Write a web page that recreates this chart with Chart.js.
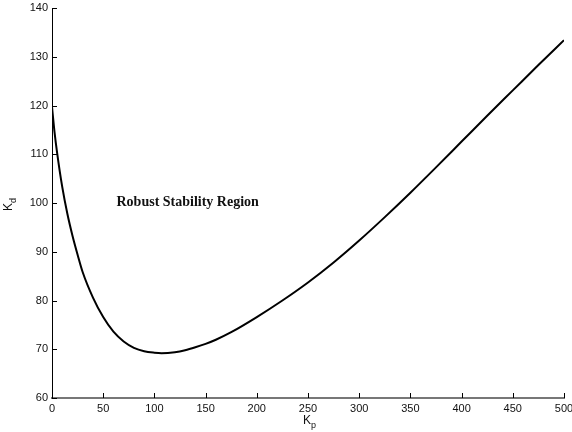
<!DOCTYPE html>
<html>
<head>
<meta charset="utf-8">
<script src="https://cdn.jsdelivr.net/npm/chart.js@4/dist/chart.umd.min.js"></script>
<style>
  html, body { margin: 0; padding: 0; background: #fff; }
  #wrap { width: 572px; height: 432px; position: relative; }
</style>
</head>
<body>
<div id="wrap"><canvas id="c"></canvas></div>
<script>
// stability boundary
const kp = [0, 2.5, 5, 10, 15, 20, 25, 30, 40, 50, 60, 70, 80, 90, 100, 107, 120, 130, 140, 150, 160,
            175, 200, 225, 250, 275, 300, 325, 350, 375, 400, 425, 450, 475, 500];
const kd = [119.7, 114.5, 110.3, 103.3, 97.8, 93.3, 89.4, 85.8, 80.6, 76.6, 73.6, 71.6, 70.3, 69.6, 69.3, 69.2, 69.4, 69.8, 70.4, 71.1, 71.95,
            73.5, 76.6, 80.0, 83.7, 87.8, 92.3, 97.1, 102.1, 107.3, 112.6, 117.9, 123.1, 128.3, 133.4];
const xTicks = [0, 50, 100, 150, 200, 250, 300, 350, 400, 450, 500];
const yTicks = [60, 70, 80, 90, 100, 110, 120, 130, 140];
const regionLabel = 'Robust Stability Region';
const regionAt = {x: 63, y: 100.2};

const tickFont = {family: '"Liberation Sans", Arial, sans-serif', size: 11};

// inward ticks, axis titles with subscripts, region label
const extras = {
  id: 'extras',
  afterDraw(chart){
    const ctx = chart.ctx, ca = chart.chartArea;
    const xs = chart.scales.x, ys = chart.scales.y;
    ctx.save();
    ctx.strokeStyle = '#000';
    ctx.lineWidth = 1;
    ctx.beginPath();
    xTicks.forEach(v=>{
      const px = Math.round(xs.getPixelForValue(v)) + 0.5;
      ctx.moveTo(px, ca.bottom); ctx.lineTo(px, ca.bottom - 5);
    });
    yTicks.forEach(v=>{
      const py = Math.round(ys.getPixelForValue(v)) + 0.5;
      ctx.moveTo(ca.left, py); ctx.lineTo(ca.left + 5, py);
    });
    ctx.stroke();

    ctx.fillStyle = '#111';
    ctx.textBaseline = 'alphabetic';
    // x title K_p
    const cx = (ca.left + ca.right) / 2;
    ctx.font = '12px "Liberation Sans", Arial, sans-serif';
    ctx.textAlign = 'left';
    ctx.fillText('K', cx - 5, 424);
    ctx.font = '9px "Liberation Sans", Arial, sans-serif';
    ctx.fillText('p', cx + 3, 428);
    // y title K_d (rotated)
    const cy = (ca.top + ca.bottom) / 2;
    ctx.save();
    ctx.translate(12, cy + 8);
    ctx.rotate(-Math.PI / 2);
    ctx.font = '12px "Liberation Sans", Arial, sans-serif';
    ctx.fillText('K', 0, 0);
    ctx.font = '9px "Liberation Sans", Arial, sans-serif';
    ctx.fillText('d', 8, 4);
    ctx.restore();

    // region label
    ctx.font = 'bold 14px "Liberation Serif", "Times New Roman", serif';
    ctx.fillStyle = '#111';
    ctx.textAlign = 'left';
    ctx.textBaseline = 'middle';
    ctx.fillText(regionLabel, xs.getPixelForValue(regionAt.x), ys.getPixelForValue(regionAt.y));
    ctx.restore();
  }
};

new Chart(document.getElementById('c'), {
  type: 'scatter',
  data: {
    datasets: [{
      data: kp.map((v,i)=>({x: v, y: kd[i]})),
      showLine: true,
      borderColor: '#000',
      borderWidth: 2,
      pointRadius: 0,
      cubicInterpolationMode: 'monotone',
      fill: false
    }]
  },
  options: {
    responsive: true,
    maintainAspectRatio: false,
    animation: false,
    layout: { padding: {top: 8, right: 8, left: 0, bottom: 0} },
    plugins: { legend: {display: false}, tooltip: {enabled: false} },
    scales: {
      x: {
        type: 'linear', min: 0, max: 500,
        afterFit: s=>{ s.height = 34; s.paddingLeft = 0; s.paddingRight = 0; },
        afterBuildTicks: s=>{ s.ticks = xTicks.map(v=>({value: v})); },
        grid: {display: false, drawTicks: false},
        border: {color: '#777', width: 2},
        ticks: {color: '#111', font: tickFont, padding: 4, autoSkip: false, maxRotation: 0}
      },
      y: {
        type: 'linear', min: 60, max: 140,
        afterFit: s=>{ s.width = 52; s.paddingTop = 0; s.paddingBottom = 0; },
        afterBuildTicks: s=>{ s.ticks = yTicks.map(v=>({value: v})); },
        grid: {display: false, drawTicks: false},
        border: {color: '#000', width: 1},
        ticks: {color: '#111', font: tickFont, padding: 4}
      }
    }
  },
  plugins: [extras]
});
</script>
</body>
</html>
